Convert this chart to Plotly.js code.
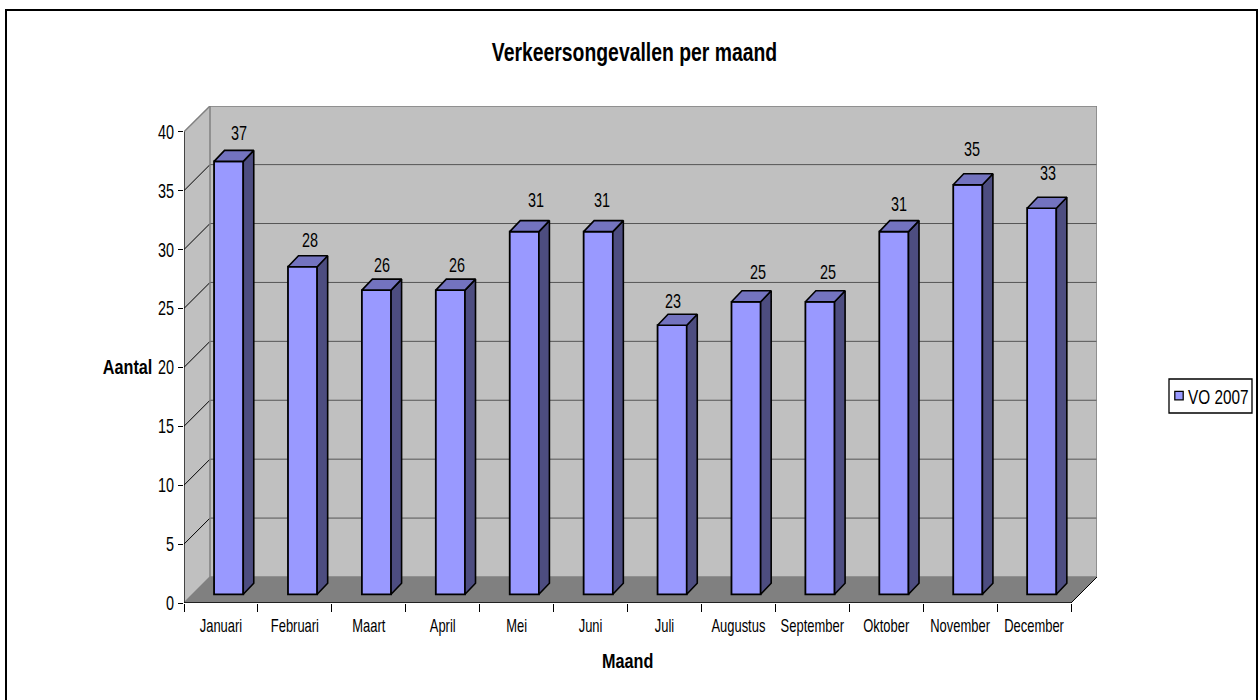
<!DOCTYPE html>
<html><head><meta charset="utf-8">
<script src="https://cdn.plot.ly/plotly-3.0.1.min.js"></script>
<style>html,body{margin:0;padding:0;background:#fff}#c{width:1260px;height:700px}</style>
</head><body><div id="c"></div>
<script>
const months = ['Januari','Februari','Maart','April','Mei','Juni','Juli','Augustus','September','Oktober','November','December'];
const accidents = [37,28,26,26,31,31,23,25,25,31,35,33];
const yTicks = [0,5,10,15,20,25,30,35,40];
const seriesName = 'VO 2007';

// pixel frame of the plot area (front-left-bottom to back-right-top)
const L = 184, R = 1097, T = 106, B = 603;
const catPx = (1071 - L) / 12, unitPx = (B - 131.7) / 40;
const xMax = (R - L) / catPx, yMax = (B - T) / unitPx;
const depthX = 26 / catPx, depthY = 26 / unitPx;       // floor depth
const barOffX = 7.7 / catPx;                            // bar front plane
const barUnitPx = 11.7, barOffPx = 8.7;                 // the bars' plane has its own vertical scale
const barDX = 10.5 / catPx, barDY = 11 / barUnitPx;     // bar depth
const barW = 0.395;
// label nudges in pixels (Excel's own irregular placement)
const labelDX = [9,6,4,5,10,2,-1,10,6,3,3,5];
const labelDY = [17,16,14,14,21,21,13,19,19,17,25,24];

const xs = months.map((_, i) => i + 0.5 + barOffX);
let sideX = [], sideY = [], topX = [], topY = [];
accidents.forEach((v, i) => {
  const l = xs[i] - barW/2, r = xs[i] + barW/2;
  sideX.push(r, r+barDX, r+barDX, r, r, null);
  sideY.push(0, barDY, v+barDY, v, 0, null);
  topX.push(l, r, r+barDX, l+barDX, l, null);
  topY.push(v, v, v+barDY, v+barDY, v, null);
});

const face = (x, y, color) => ({type:'scatter', mode:'lines', x, y, yaxis:'y2', fill:'toself', fillcolor:color,
  line:{color:'#000', width:1.6}, hoverinfo:'skip', showlegend:false, cliponaxis:false});

const traces = [
  {type:'bar', name:seriesName, x:xs, y:accidents, yaxis:'y2', width:barW,
   marker:{color:'#9999FF', line:{color:'#000', width:1.8}}, showlegend:true, cliponaxis:false},
  face(sideX, sideY, '#4D4D80'),
  face(topX, topY, '#7373BF')
];

const seg = (x0,y0,x1,y1,color,width,layer='below') => ({type:'line',xref:'x',yref:'y',x0,y0,x1,y1,layer,line:{color,width}});
const poly = (pts,color) => ({type:'path',xref:'x',yref:'y',layer:'below',line:{width:0},fillcolor:color,
  path:'M'+pts.map(p=>p.join(',')).join('L')+'Z'});
const shapes = [
  poly([[depthX,depthY],[xMax,depthY],[xMax,yMax],[depthX,yMax]],'#C0C0C0'),
  poly([[0,0],[depthX,depthY],[depthX,yMax],[0,40]],'#C0C0C0'),
  poly([[0,0],[12,0],[xMax,depthY],[depthX,depthY]],'#808080'),
];
yTicks.forEach(t => {
  if (t > 0 && t < 40) {
    shapes.push(seg(depthX,t+depthY,xMax,t+depthY,'#555',1));
    shapes.push(seg(0,t,depthX,t+depthY,'#000',1));
  }
});
shapes.push(seg(depthX,depthY,depthX,yMax,'#808080',1.5));
shapes.push(seg(xMax,depthY,xMax,yMax,'#808080',1.5));
shapes.push(seg(depthX,yMax,xMax,yMax,'#808080',1.5));
shapes.push(seg(0,40,depthX,yMax,'#808080',1.5));
shapes.push(seg(depthX,depthY,xMax,depthY,'#808080',1.5));
shapes.push(seg(0,0,depthX,depthY,'#808080',1.5));
shapes.push(seg(12,0,xMax,depthY,'#000',1));
shapes.push(seg(0,0,12,0,'#000',1.3,'above'));
shapes.push(seg(0,0,0,40,'#000',1.3,'above'));
// outer chart frame (its bottom edge lies below the picture) and legend box
const px = x => (x-L)/(R-L), py = y => (B-y)/(B-T);
shapes.push({type:'rect',xref:'paper',yref:'paper',layer:'above',line:{color:'#000',width:2},
  x0:px(6),x1:px(1257),y0:py(720),y1:py(10)});
shapes.push({type:'rect',xref:'paper',yref:'paper',layer:'above',line:{color:'#000',width:1.3},
  x0:px(1169),x1:px(1252),y0:py(413),y1:py(379)});

const font = {family:'"Liberation Sans", Arial, sans-serif', color:'#000'};
const annotations = accidents.map((v,i) => ({
  xref:'x',yref:'y2',x:xs[i]+barW/2,y:v+barDY,text:String(v),showarrow:false,
  xanchor:'center',yanchor:'middle',xshift:labelDX[i]-13,yshift:labelDY[i],
  font:{...font,size:20}
}));
annotations.push({xref:'paper',yref:'paper',x:px(127),y:py(367),text:'<b>Aantal</b>',showarrow:false,
  xanchor:'center',yanchor:'middle',font:{...font,size:20}});
annotations.push({xref:'paper',yref:'paper',x:px(627),y:py(661),text:'<b>Maand</b>',showarrow:false,
  xanchor:'center',yanchor:'middle',font:{...font,size:20}});

const layout = {
  width:1260,height:700,
  margin:{l:L,r:1260-R,t:T,b:700-B,pad:0},
  paper_bgcolor:'#fff',plot_bgcolor:'rgba(0,0,0,0)',
  title:{text:'<b>Verkeersongevallen per maand</b>',font:{...font,size:25},x:634.5/1260,xref:'container',xanchor:'center',
         y:1-52/700,yref:'container',yanchor:'middle'},
  showlegend:true,
  legend:{x:1159/1260,y:1-396/700,xref:'container',yref:'container',xanchor:'left',yanchor:'middle',
    borderwidth:0,bgcolor:'rgba(0,0,0,0)',font:{...font,size:21}},
  xaxis:{range:[0,xMax],tickmode:'array',tickvals:months.map((_,i)=>i+0.5),ticktext:months,ticks:'',tickangle:0,
    showgrid:false,zeroline:false,showline:false,tickfont:{...font,size:18},fixedrange:true,automargin:false,
    ticklabelstandoff:10,
    minor:{tickmode:'array',tickvals:months.map((_,i)=>i).concat([12]),ticks:'outside',ticklen:8,tickcolor:'#000',tickwidth:1,showgrid:false}},
  yaxis:{range:[0,yMax],tickmode:'array',tickvals:yTicks,ticktext:yTicks.map(String),ticks:'outside',ticklen:5,tickcolor:'#000',
    tickwidth:1,showgrid:false,zeroline:false,showline:false,tickfont:{...font,size:20},fixedrange:true,automargin:false},
  yaxis2:{overlaying:'y',range:[-barOffPx/barUnitPx,(B-barOffPx-T)/barUnitPx],visible:false,fixedrange:true},
  shapes,annotations
};

// The reference's text is horizontally condensed; no condensed Arial is installed, so squeeze the real text.
function squeeze(el, s, anchor, dx=0){
  const b = el.getBBox();
  const c = anchor==='r' ? b.x+b.width : anchor==='l' ? b.x : b.x+b.width/2;
  const t = el.getAttribute('transform') || '';
  el.setAttribute('transform', `${t} translate(${c+dx},0) scale(${s},1) translate(${-c},0)`);
}
Plotly.newPlot('c',traces,layout,{displayModeBar:false,staticPlot:true}).then(gd => {
  gd.querySelectorAll('.xtick text').forEach(e => squeeze(e,.72,'c'));
  gd.querySelectorAll('.ytick text').forEach(e => squeeze(e,.72,'r'));
  gd.querySelectorAll('.annotation-text').forEach(e => squeeze(e, isNaN(e.textContent)?.81:.72,'c'));
  gd.querySelectorAll('.gtitle').forEach(e => squeeze(e,.775,'c'));
  gd.querySelectorAll('.legendtext').forEach(e => squeeze(e,.73,'l',-11));
  gd.querySelectorAll('.legendpoints path').forEach(e => e.setAttribute('transform',(e.getAttribute('transform')||'')+' scale(.7)'));
});
</script></body></html>
